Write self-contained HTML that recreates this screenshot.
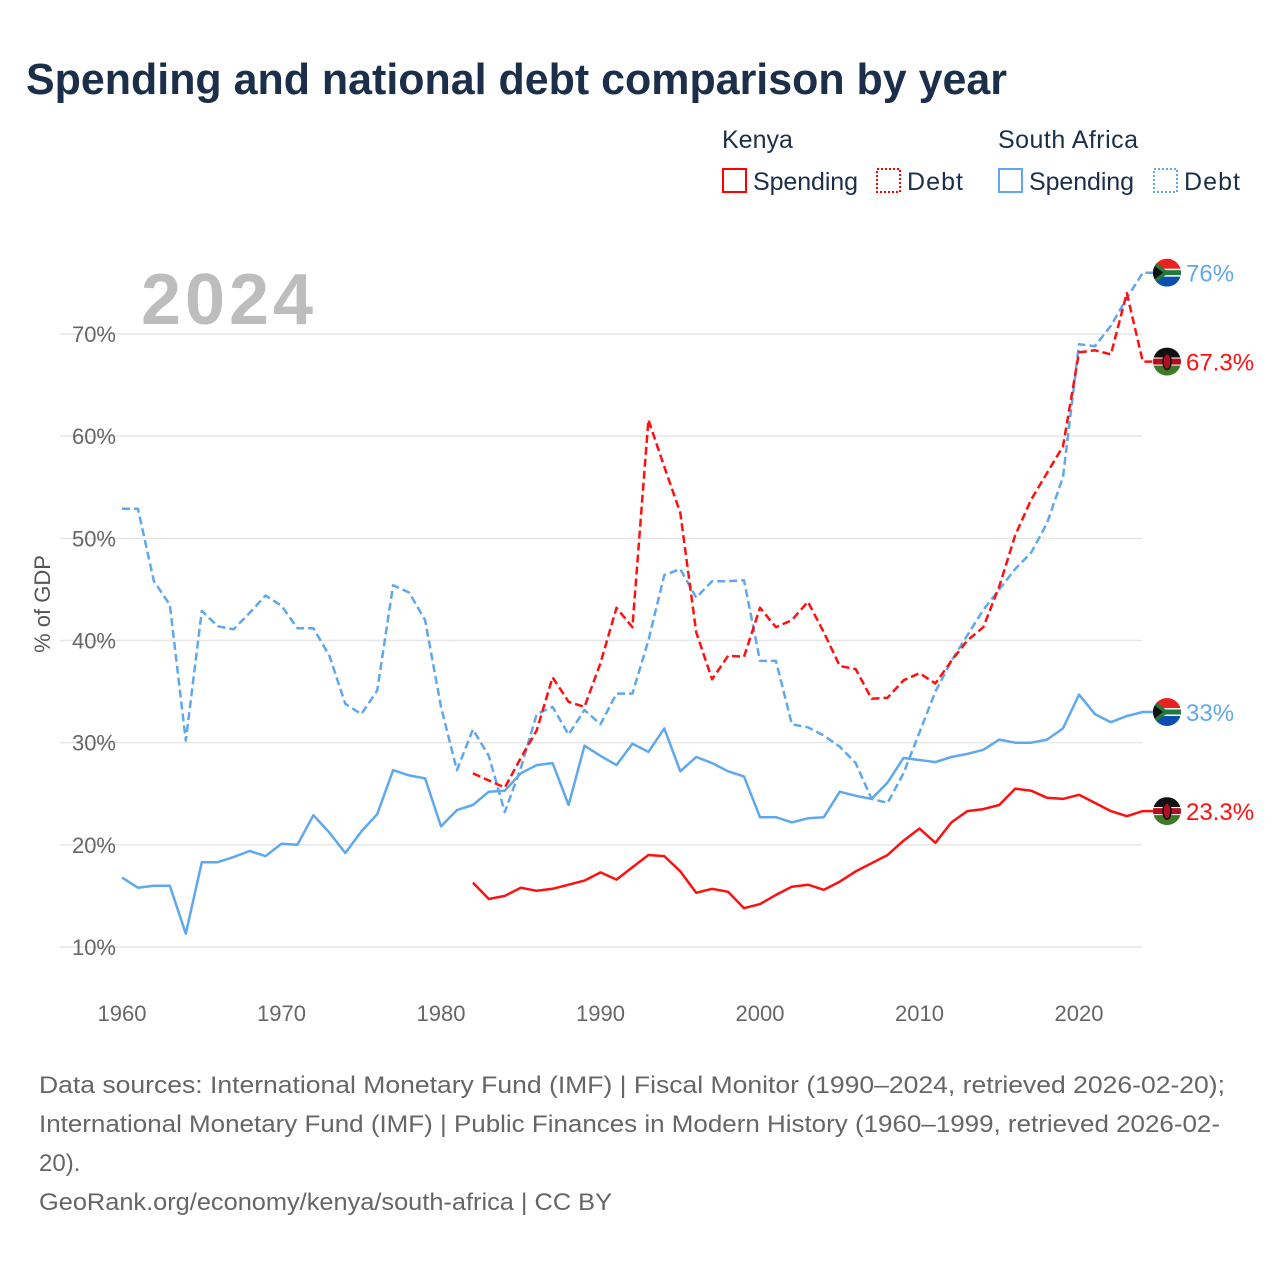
<!DOCTYPE html>
<html><head><meta charset="utf-8"><style>
body{margin:0;background:#fff;width:1280px;height:1280px;overflow:hidden;font-family:"Liberation Sans",sans-serif}
</style></head><body>
<svg id="chart" width="1280" height="1280" xmlns="http://www.w3.org/2000/svg">
<text x="26" y="94" font-size="44" font-weight="bold" fill="#1b2f4b" textLength="981" lengthAdjust="spacingAndGlyphs">Spending and national debt comparison by year</text>
<g font-size="25" fill="#1b2f4b">
<text x="722" y="148">Kenya</text>
<text x="998" y="148" textLength="140">South Africa</text>
<g><rect x="723" y="169" width="23" height="23" fill="none" stroke="#f00" stroke-width="2"/><text x="753" y="190" textLength="105">Spending</text></g>
<g><rect x="877" y="169" width="23" height="23" fill="none" stroke="#f00" stroke-width="2" stroke-dasharray="2,2"/><text x="907" y="190" textLength="56">Debt</text></g>
<g><rect x="999" y="169" width="23" height="23" fill="none" stroke="#5fa8ee" stroke-width="2"/><text x="1029" y="190" textLength="105">Spending</text></g>
<g><rect x="1154" y="169" width="23" height="23" fill="none" stroke="#5fa8ee" stroke-width="2" stroke-dasharray="2,2"/><text x="1184" y="190" textLength="56">Debt</text></g>
</g>
<text x="141" y="324" font-size="72" font-weight="bold" fill="#bdbdbd" textLength="172">2024</text>
<g id="grid"></g>
<g id="series"></g>
<g id="ends"></g>
<text transform="translate(50,604) rotate(-90)" text-anchor="middle" font-size="22" fill="#555">% of GDP</text>
<g font-size="24" fill="#666">
<text x="39" y="1093" textLength="1186" lengthAdjust="spacingAndGlyphs">Data sources: International Monetary Fund (IMF) | Fiscal Monitor (1990–2024, retrieved 2026-02-20);</text>
<text x="39" y="1132" textLength="1181" lengthAdjust="spacingAndGlyphs">International Monetary Fund (IMF) | Public Finances in Modern History (1960–1999, retrieved 2026-02-</text>
<text x="39" y="1171">20).</text>
<text x="39" y="1210" textLength="573" lengthAdjust="spacingAndGlyphs">GeoRank.org/economy/kenya/south-africa | CC BY</text>
</g>
</svg>
<script>
const yTicks=[10,20,30,40,50,60,70];
const xTicks=[1960,1970,1980,1990,2000,2010,2020];
const saSpending=[16.8,15.8,16.0,16.0,11.3,18.3,18.3,18.8,19.4,18.9,20.1,20.0,22.9,21.2,19.2,21.3,23.0,27.3,26.8,26.5,21.8,23.4,23.9,25.2,25.3,27.0,27.8,28.0,23.9,29.7,28.7,27.8,29.9,29.1,31.4,27.2,28.6,28.0,27.2,26.7,22.7,22.7,22.2,22.6,22.7,25.2,24.8,24.5,26.1,28.5,28.3,28.1,28.6,28.9,29.3,30.3,30.0,30.0,30.3,31.4,34.7,32.8,32.0,32.6,33.0];
const saDebt=[52.9,52.9,45.8,43.5,30.2,42.9,41.4,41.1,42.7,44.4,43.4,41.2,41.2,38.5,33.8,32.8,35.1,45.4,44.7,42.0,33.5,27.3,31.3,28.7,23.2,27.5,32.8,33.5,30.8,33.2,31.8,34.8,34.8,40.0,46.4,47.0,44.2,45.8,45.8,45.9,38.0,38.0,31.8,31.5,30.7,29.6,28.0,24.5,24.1,27.0,31.0,35.0,38.0,40.5,43.0,45.0,47.0,48.6,51.5,56.0,69.0,68.8,70.8,73.5,76.0];
const keSpending=[16.3,14.7,15.0,15.8,15.5,15.7,16.1,16.5,17.3,16.6,17.8,19.0,18.9,17.4,15.3,15.7,15.4,13.8,14.2,15.1,15.9,16.1,15.6,16.4,17.4,18.2,19.0,20.4,21.6,20.2,22.2,23.3,23.5,23.9,25.5,25.3,24.6,24.5,24.9,24.1,23.3,22.8,23.3];
const keDebt=[27.0,26.3,25.6,28.5,31.2,36.4,34.0,33.5,37.8,43.2,41.3,61.6,57.0,52.5,40.8,36.2,38.5,38.4,43.2,41.3,42.0,43.8,40.8,37.5,37.2,34.3,34.4,36.1,36.8,35.8,38.0,40.0,41.3,45.3,50.3,53.8,56.4,59.0,68.2,68.4,68.0,74.0,67.3];
const saStart=1960, keStart=1982;
const NS="http://www.w3.org/2000/svg";
const xs=yr=>122+(yr-1960)*15.95;
const ys=v=>947-(v-10)*10.217;
function mk(t,a,p){const e=document.createElementNS(NS,t);for(const k in a)e.setAttribute(k,a[k]);p.appendChild(e);return e;}
const grid=document.getElementById('grid');
yTicks.forEach(v=>{
 const l=mk('line',{x1:60,x2:1142,y1:ys(v),y2:ys(v),stroke:'#e6e6e6','stroke-width':1.5},grid);
 
 
 const t=mk('text',{x:116,y:ys(v)+8,'text-anchor':'end','font-size':22,fill:'#666'},grid);
 t.textContent=v+'%';
 
 
});
xTicks.forEach(yr=>{
 const t=mk('text',{x:xs(yr),y:1021,'text-anchor':'middle','font-size':22,fill:'#666'},grid);
 t.textContent=yr;
 
 
});
const ser=document.getElementById('series');
function line(vals,start,col,dash,name){
 let d=vals.map((v,i)=>(i?'L':'M')+xs(start+i).toFixed(1)+','+ys(v).toFixed(1)).join(' ');
 d+=' L1153,'+ys(vals[vals.length-1]).toFixed(1);
 const p=mk('path',{d:d,fill:'none',stroke:col,'stroke-width':2.5,'stroke-linejoin':'round'},ser);
 if(dash)p.setAttribute('stroke-dasharray','8,4');
 
 
}
line(saDebt,saStart,'#5fa8ee',true,'line-sa-debt');
line(keDebt,keStart,'#ff1010',true,'line-kenya-debt');
line(saSpending,saStart,'#5fa8ee',false,'line-sa-spending');
line(keSpending,keStart,'#ff1010',false,'line-kenya-spending');
const ends=document.getElementById('ends');
function flag(cx,cy,sa){
 const g=mk('g',{},ends);
 const id='c'+Math.round(cy);
 const cp=mk('clipPath',{id:id},g);mk('circle',{cx:cx,cy:cy,r:14},cp);
 const f=mk('g',{'clip-path':'url(#'+id+')'},g);
 if(sa){
  mk('rect',{x:cx-14,y:cy-14,width:28,height:14,fill:'#e8231f'},f);
  mk('rect',{x:cx-14,y:cy,width:28,height:14,fill:'#0a4fb0'},f);
  mk('rect',{x:cx-14,y:cy-4,width:28,height:8,fill:'#fff'},f);
  mk('rect',{x:cx-14,y:cy-2.5,width:28,height:5,fill:'#217a3c'},f);
  mk('polygon',{points:(cx-14)+','+(cy-12)+' '+(cx+2)+','+cy+' '+(cx-14)+','+(cy+12),fill:'#217a3c'},f);
  mk('polygon',{points:(cx-14)+','+(cy-8)+' '+(cx-4)+','+cy+' '+(cx-14)+','+(cy+8),fill:'#111'},f);
 }else{
  mk('rect',{x:cx-14,y:cy-14,width:28,height:10,fill:'#111'},f);
  mk('rect',{x:cx-14,y:cy-4,width:28,height:8,fill:'#fff'},f);
  mk('rect',{x:cx-14,y:cy-3,width:28,height:6,fill:'#b01020'},f);
  mk('rect',{x:cx-14,y:cy+4,width:28,height:10,fill:'#3c7a2a'},f);
  mk('ellipse',{cx:cx,cy:cy,rx:4,ry:8,fill:'#b01020',stroke:'#111','stroke-width':1.5},f);
 }
 
 
}
function endLabel(vals,start,col,sa,name){
 const v=vals[vals.length-1];
 const y=ys(v);
 flag(1167,y,sa);
 const t=mk('text',{x:1186,y:y+9,'font-size':24,fill:col},ends);
 t.textContent=(Math.round(v*10)/10)+'%';
 
 
}
endLabel(saDebt,saStart,'#5fa8ee',true,'end-label-sa-debt');
endLabel(keDebt,keStart,'#ff1010',false,'end-label-kenya-debt');
endLabel(saSpending,saStart,'#5fa8ee',true,'end-label-sa-spending');
endLabel(keSpending,keStart,'#ff1010',false,'end-label-kenya-spending');
</script>
</body></html>
